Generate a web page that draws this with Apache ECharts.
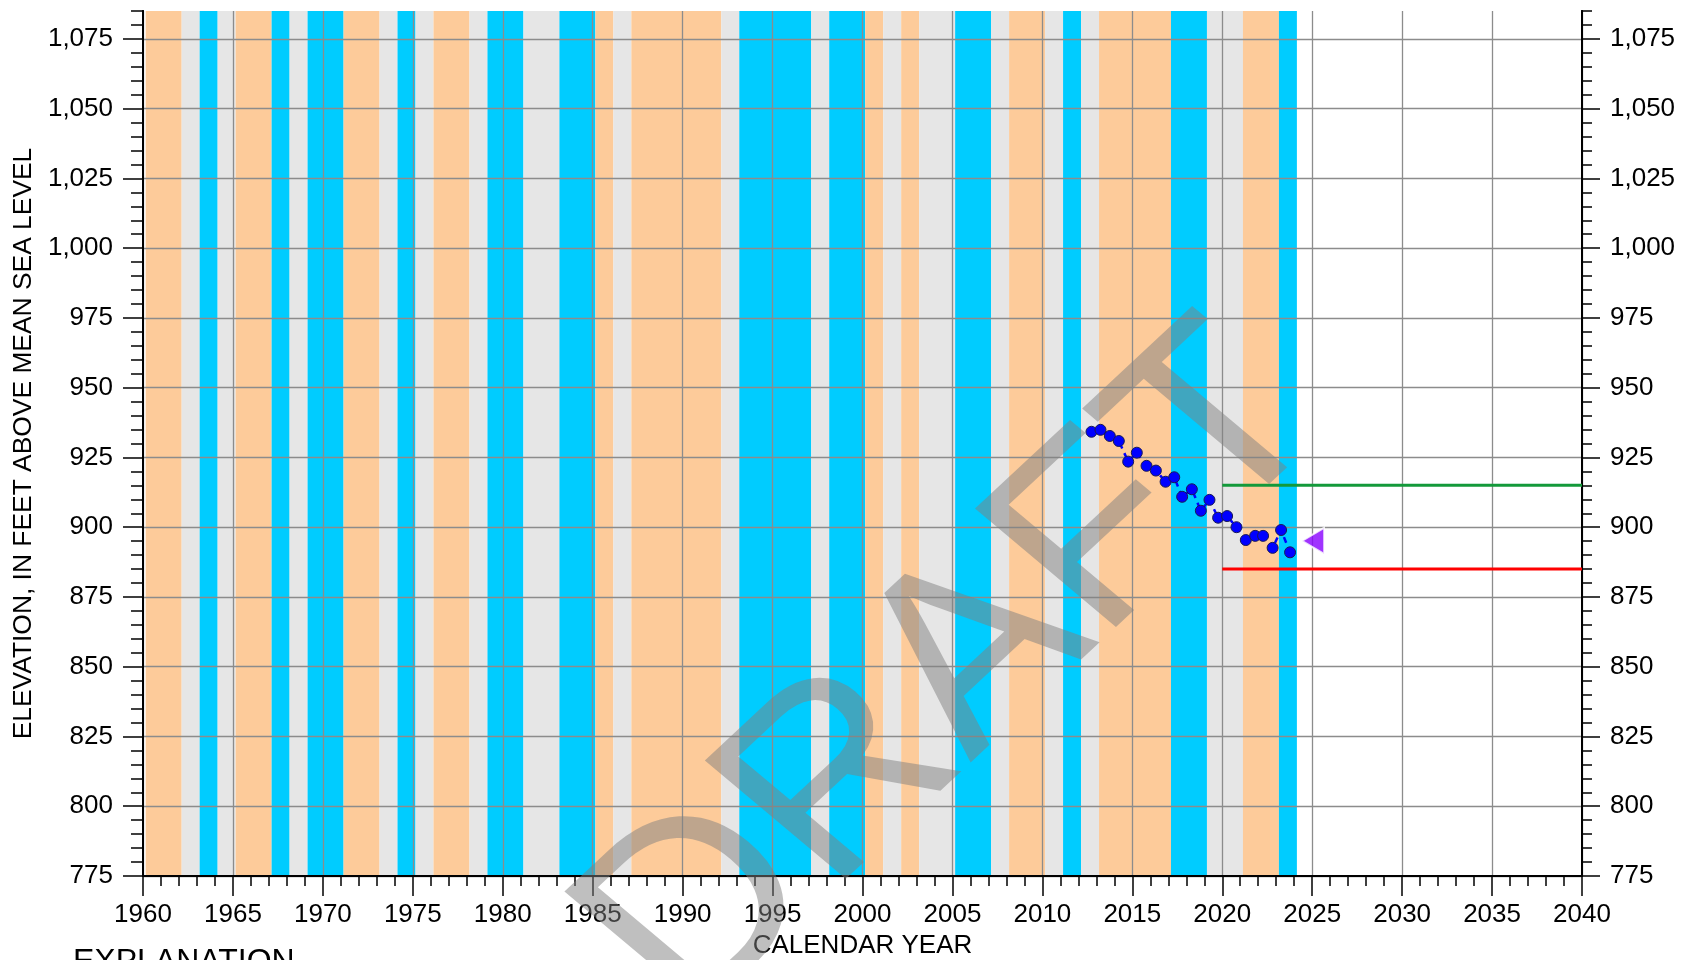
<!DOCTYPE html>
<html lang="en">
<head>
<meta charset="UTF-8">
<title>Water level hydrograph</title>
<script src="https://cdn.jsdelivr.net/npm/echarts@6/dist/echarts.min.js"></script>
<style>
  html, body { margin: 0; padding: 0; background: #fff; }
  #chart { width: 1691px; height: 960px; }
</style>
</head>
<body>
<div id="chart"></div>
<script>
  // shaded year bands: start year, end year, class
  const bandStart = [1960, 1962, 1963, 1964, 1965, 1967, 1968, 1969, 1971, 1973,
                     1974, 1975, 1976, 1978, 1979, 1981, 1983, 1985, 1986, 1987,
                     1992, 1993, 1997, 1998, 2000, 2001, 2002, 2003, 2005, 2007,
                     2008, 2010, 2011, 2012, 2013, 2017, 2019, 2021, 2023];
  const bandEnd   = [1962, 1963, 1964, 1965, 1967, 1968, 1969, 1971, 1973, 1974,
                     1975, 1976, 1978, 1979, 1981, 1983, 1985, 1986, 1987, 1992,
                     1993, 1997, 1998, 2000, 2001, 2002, 2003, 2005, 2007, 2008,
                     2010, 2011, 2012, 2013, 2017, 2019, 2021, 2023, 2024];
  const bandClass = ['dry', 'normal', 'wet', 'normal', 'dry', 'wet', 'normal', 'wet', 'dry', 'normal',
                     'wet', 'normal', 'dry', 'normal', 'wet', 'normal', 'wet', 'dry', 'normal', 'dry',
                     'normal', 'wet', 'normal', 'wet', 'dry', 'normal', 'dry', 'normal', 'wet', 'normal',
                     'dry', 'normal', 'wet', 'normal', 'dry', 'wet', 'normal', 'dry', 'wet'];

  // measured water levels (decimal year, feet above msl)
  const sampleYear = [2012.73, 2013.23, 2013.75, 2014.25, 2014.77, 2015.25, 2015.79, 2016.31,
                      2016.85, 2017.33, 2017.77, 2018.31, 2018.81, 2019.29, 2019.77, 2020.27,
                      2020.79, 2021.31, 2021.83, 2022.27, 2022.80, 2023.27, 2023.77];
  const waterLevel = [934.2, 934.9, 932.7, 930.9, 923.5, 926.7, 922.0, 920.3,
                      916.3, 917.9, 910.9, 913.6, 905.9, 909.8, 903.4, 904.0,
                      900.0, 895.4, 896.9, 896.9, 892.6, 899.0, 891.0];

  // threshold levels
  const upperLevel = 915;
  const lowerLevel = 885;
  const levelFrom = 2020;
  const levelTo = 2040;

  // latest marker
  const latestYear = 2025.05;
  const latestLevel = 895.1;

  const yMajorTicks = [775, 800, 825, 850, 875, 900, 925, 950, 975, 1000, 1025, 1050, 1075];

  const Y_MIN = 775, Y_MAX = 1085;
  const bandColors = { dry: '#FDCB9A', normal: '#E6E6E6', wet: '#00CCFF' };
  const bandShift = 0.15;
  const FONT = '"Liberation Sans", Arial, sans-serif';

  const chart = echarts.init(document.getElementById('chart'), null, { renderer: 'canvas' });

  const fmtY = v => Number(v).toLocaleString('en-US');
  const black = { color: '#000', width: 2 };
  const tickStyle = { color: '#000', width: 1.5 };
  const labelStyle = { fontSize: 26, color: '#000', fontFamily: FONT };
  const gridLine = { show: true, lineStyle: { color: '#8c8c8c', width: 1.3 } };

  function yAxisMajor(pos, withGrid, margin, tickLen) {
    return {
      type: 'value', position: pos, min: Y_MIN, max: Y_MAX, interval: 25, z: 1,
      axisLine: { show: true, onZero: false, lineStyle: black },
      axisTick: { show: true, inside: false, length: tickLen, lineStyle: tickStyle, customValues: yMajorTicks },
      axisLabel: Object.assign({ margin: margin, formatter: fmtY, customValues: yMajorTicks }, labelStyle),
      splitLine: withGrid ? gridLine : { show: false }
    };
  }
  function yAxisMinor(pos, tickLen) {
    return {
      type: 'value', position: pos, min: Y_MIN, max: Y_MAX, interval: 5, z: 1,
      axisLine: { show: true, onZero: false, lineStyle: black },
      axisTick: { show: true, inside: false, length: tickLen, lineStyle: tickStyle },
      axisLabel: { show: false },
      splitLine: { show: false }
    };
  }

  const leftMajor = yAxisMajor('left', true, 30, 20);
  leftMajor.name = 'ELEVATION, IN FEET ABOVE MEAN SEA LEVEL';
  leftMajor.nameLocation = 'middle';
  leftMajor.nameGap = 102;
  leftMajor.nameTextStyle = Object.assign({}, labelStyle, { fontSize: 26.4 });

  const option = {
    animation: false,
    textStyle: { fontFamily: FONT },
    grid: { left: 143, right: 109, top: 11, bottom: 84, containLabel: false, outerBoundsMode: 'none' },
    xAxis: {
      type: 'value', min: 1960, max: 2040, interval: 5, z: 1,
      name: 'CALENDAR YEAR', nameLocation: 'middle', nameGap: 50,
      nameTextStyle: labelStyle,
      axisLine: { show: true, onZero: false, lineStyle: black },
      axisTick: { show: true, inside: false, length: 20, lineStyle: tickStyle },
      minorTick: { show: true, splitNumber: 5, length: 10, lineStyle: tickStyle },
      axisLabel: Object.assign({ margin: 26, formatter: v => String(v) }, labelStyle),
      splitLine: gridLine
    },
    yAxis: [
      leftMajor,
      yAxisMinor('left', 12),
      yAxisMajor('right', false, 28, 18),
      yAxisMinor('right', 10)
    ],
    series: [
      {
        type: 'custom',
        z: 0,
        clip: true,
        silent: true,
        data: bandStart.map((s, i) => [s, bandEnd[i], i]),
        renderItem: function (params, api) {
          const i = api.value(2);
          const p0 = api.coord([api.value(0) + bandShift, Y_MAX]);
          const p1 = api.coord([api.value(1) + bandShift, Y_MIN]);
          const cs = params.coordSys;
          const x0 = Math.max(p0[0], cs.x);
          const x1 = Math.min(p1[0], cs.x + cs.width);
          return {
            type: 'rect',
            shape: { x: x0, y: p0[1], width: x1 - x0, height: p1[1] - p0[1] },
            style: { fill: bandColors[bandClass[i]] }
          };
        }
      },
      {
        type: 'line',
        z: 3,
        data: [[levelFrom, upperLevel], [levelTo, upperLevel]],
        symbol: 'none',
        lineStyle: { color: '#13993A', width: 3 }
      },
      {
        type: 'line',
        z: 3,
        data: [[levelFrom, lowerLevel], [levelTo, lowerLevel]],
        symbol: 'none',
        lineStyle: { color: '#FF0000', width: 3 }
      },
      {
        type: 'line',
        z: 4,
        data: sampleYear.map((x, i) => [x, waterLevel[i]]),
        symbol: 'circle',
        symbolSize: 11,
        lineStyle: { color: '#0000FF', width: 2.5, type: [6, 5] },
        itemStyle: { color: '#0000FF', borderColor: '#1a1a55', borderWidth: 1 }
      },
      {
        type: 'scatter',
        z: 4,
        data: [[latestYear, latestLevel]],
        symbol: 'triangle',
        symbolRotate: 90,
        symbolSize: [26, 22],
        itemStyle: { color: '#8800FF', borderColor: '#fff', borderWidth: 2 }
      }
    ],
    graphic: [
      {
        type: 'text', left: 73, top: 946, z: 50,
        style: { text: 'EXPLANATION', fontSize: 32, fill: '#000', fontFamily: FONT }
      },
      {
        type: 'group', x: 957, y: 675, scaleX: 1.13, z: 100, silent: true,
        children: [{
          type: 'text', rotation: 46.5 * Math.PI / 180, z: 100,
          style: {
            text: 'DRAFT', fontSize: 250, fontFamily: FONT,
            fill: 'rgba(128,128,128,0.5)', align: 'center', verticalAlign: 'middle'
          }
        }]
      }
    ]
  };

  chart.setOption(option);
</script>
</body>
</html>
